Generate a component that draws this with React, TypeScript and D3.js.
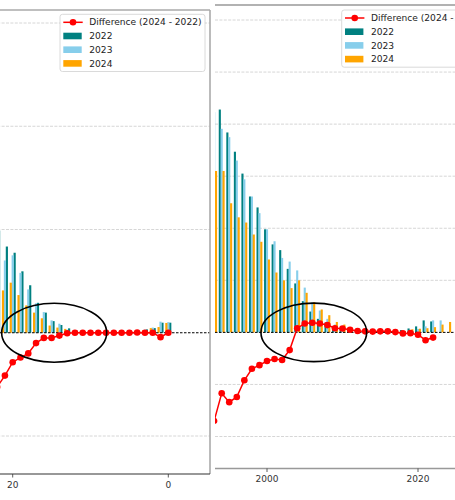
import React from "react";
import * as d3 from "d3";

// ---- left panel: years back (axis reversed) ----
const ageCats = [22, 21, 20, 19, 18, 17, 16, 15, 14, 13, 12, 11, 10, 9, 8, 7, 6, 5, 4, 3, 2, 1, 0];
const age2022 = [1980, 1670, 1550, 1190, 920, 580, 390, 225, 150, 85, 40, 20, 5, 5, 5, 5, 5, 5, 10, 65, 90, 195, 195];
const age2023 = [1780, 1400, 1500, 1160, 840, 570, 400, 240, 175, 60, 30, 15, 5, 5, 5, 5, 5, 5, 10, 60, 100, 215, 205];
const age2024 = [910, 820, 970, 730, 530, 390, 280, 140, 100, 75, 30, 15, 5, 5, 5, 5, 5, 5, 15, 45, 90, 110, 190];
const ageDiff = [-1050, -830, -570, -480, -400, -200, -100, -100, -55, -10, 0, 0, 0, 0, 0, 0, 0, 0, 5, 0, 0, -85, 0];

// ---- right panel: model year ----
const yearCats = [1993, 1994, 1995, 1996, 1997, 1998, 1999, 2000, 2001, 2002, 2003, 2004, 2005, 2006, 2007, 2008,
  2009, 2010, 2011, 2012, 2013, 2014, 2015, 2016, 2017, 2018, 2019, 2020, 2021, 2022, 2023, 2024];
const year2022 = [4880, 4280, 3840, 3470, 3050, 2610, 2400, 1980, 1690, 1580, 1220, 940, 600, 400, 260, 190,
  120, 80, 40, 20, 10, 10, 10, 10, 20, 45, 75, 115, 230, 210, null, null];
const year2023 = [4230, 3910, 3750, 3300, 2940, 2610, 2290, 1980, 1750, 1430, 1360, 1190, 860, 580, 420, 260,
  150, 110, 60, 30, 20, 15, 20, 20, 20, 20, 40, 65, 115, 230, 230, null];
const year2024 = [3100, 3100, 2480, 2210, 2110, 1880, 1740, 1400, 1150, 1000, 850, 1000, 760, 580, 440, 330,
  200, 150, 90, 45, 30, 25, 30, 30, 25, 25, 60, 70, 80, 100, 150, 200];
const yearDiff = [-1700, -1170, -1340, -1240, -920, -700, -630, -550, -510, -530, -340, 80, 170, 185, 170, 140,
  80, 75, 50, 25, 20, 15, 20, 20, 5, -20, -15, -45, -150, -100, null, null];

const seriesNames = ["2022", "2023", "2024"];
const seriesColors = ["#008080", "#87CEEB", "#FFA500"];
const diffLabel = "Difference (2024 - 2022)";
const yTicksLeft = [-2000, 0, 2000, 4000, 6000];
const yTicksRight = [-2000, -1000, 0, 1000, 2000, 3000, 4000, 5000, 6000];

const FONT = "DejaVu Sans, sans-serif";

function Panel({ id, cats, series, diff, x, y, box, xTicks, yTicks, spines, legend, ellipse }: any) {
  const offs = [-0.25, 0, 0.25];
  const bw = 0.28;
  const line = d3
    .line<any>()
    .defined((d) => d[1] != null)
    .x((d) => x(d[0]))
    .y((d) => y(d[1]));
  const pts = cats.map((c: number, i: number) => [c, diff[i]]);
  const zero = y(0);
  return (
    <g>
      <defs>
        <clipPath id={id}>
          <rect x={box.l} y={box.t} width={box.r - box.l} height={box.b - box.t} />
        </clipPath>
      </defs>
      <g clipPath={`url(#${id})`}>
        {yTicks.filter((t: number) => t !== 0).map((t: number) => (
          <line key={t} x1={box.l} x2={box.r} y1={y(t)} y2={y(t)} stroke="#cccccc" strokeWidth={0.8} strokeDasharray="3,1.4" />
        ))}
        {series.map((vals: any[], si: number) =>
          vals.map((v, i) => {
            if (v == null || v <= 0) return null;
            const a = x(cats[i] + offs[si] - bw / 2);
            const b = x(cats[i] + offs[si] + bw / 2);
            return (
              <rect key={si + "-" + i} x={Math.min(a, b)} width={Math.abs(b - a)} y={y(v)} height={zero - y(v)} fill={seriesColors[si]} />
            );
          }),
        )}
        <line x1={box.l} x2={box.r} y1={zero} y2={zero} stroke="#000" strokeWidth={1} strokeDasharray="2.5,1.5" />
        <path d={line(pts) || ""} fill="none" stroke="red" strokeWidth={1.5} />
        {pts.filter((p: any) => p[1] != null).map((p: any, i: number) => (
          <circle key={i} cx={x(p[0])} cy={y(p[1])} r={3.3} fill="red" />
        ))}
        <ellipse
          cx={x(ellipse.cx)}
          cy={y(0)}
          rx={Math.abs(x(ellipse.cx + ellipse.w / 2) - x(ellipse.cx))}
          ry={Math.abs(y(ellipse.h / 2) - y(0))}
          fill="none"
          stroke="#000"
          strokeWidth={1.6}
        />
      </g>
      {/* spines */}
      {spines.map((s: any, i: number) => (
        <line key={i} x1={s[0]} y1={s[1]} x2={s[2]} y2={s[3]} stroke={s[4]} strokeWidth={s[5]} />
      ))}
      {xTicks.map((t: number) => (
        <g key={t} transform={`translate(${x(t)},${box.b})`}>
          <line y1={0} y2={3.5} stroke="#333" strokeWidth={0.8} />
          <text y={13.5} textAnchor="middle" fontSize={9} fontFamily={FONT} fill="#333">
            {t}
          </text>
        </g>
      ))}
      {/* legend */}
      <g transform={`translate(${legend.x},${legend.y})`}>
        <rect width={145} height={57.2} rx={2.5} fill="white" fillOpacity={0.85} stroke="#d0d0d0" strokeWidth={0.8} />
        <line x1={3.3} x2={22.7} y1={8} y2={8} stroke="red" strokeWidth={1.5} />
        <circle cx={13} cy={8} r={3.3} fill="red" />
        <text x={29.3} y={8} dy="0.35em" fontSize={9.1} fontFamily={FONT} fill="#222">
          {diffLabel}
        </text>
        {seriesNames.map((n, i) => (
          <g key={n} transform={`translate(0,${8 + 13.7 * (i + 1)})`}>
            <rect x={3.3} y={-3.3} width={18.4} height={6.6} fill={seriesColors[i]} />
            <text x={29.3} dy="0.35em" fontSize={9.1} fontFamily={FONT} fill="#222">
              {n}
            </text>
          </g>
        ))}
      </g>
    </g>
  );
}

export default function App() {
  const xL = d3.scaleLinear().domain([20, 0]).range([12.7, 168.3]);
  const yL = d3.scaleLinear().domain([-2000, 6000]).range([436, 23]);
  const xR = d3.scaleLinear().domain([2000, 2020]).range([267, 418]);
  const yR = d3.scaleLinear().domain([-2000, 6000]).range([436.5, 20]);
  return (
    <svg width={455} height={500} style={{ position: "fixed", left: 0, top: 0, background: "white" }}>
      <rect width={455} height={500} fill="white" />
      <Panel
        id="clipL"
        cats={ageCats}
        series={[age2022, age2023, age2024]}
        diff={ageDiff}
        x={xL}
        y={yL}
        box={{ l: -60, r: 210, t: 10, b: 474 }}
        xTicks={[20, 0]}
        yTicks={yTicksLeft}
        spines={[
          [-60, 10, 210, 10, "#aaaaaa", 1.5],
          [210, 10, 210, 474, "#aaaaaa", 1.6],
          [-60, 474, 210, 474, "#333333", 1.1],
        ]}
        legend={{ x: 60, y: 14.3 }}
        ellipse={{ cx: 14.67, w: 13.5, h: 1140 }}
      />
      <Panel
        id="clipR"
        cats={yearCats}
        series={[year2022, year2023, year2024]}
        diff={yearDiff}
        x={xR}
        y={yR}
        box={{ l: 215, r: 492, t: 5, b: 468.5 }}
        xTicks={[2000, 2020]}
        yTicks={yTicksRight}
        spines={[
          [215, 5, 492, 5, "#999999", 1.4],
          [215, 468.5, 492, 468.5, "#999999", 1.6],
        ]}
        legend={{ x: 341.7, y: 10 }}
        ellipse={{ cx: 2006.2, w: 14, h: 1125 }}
      />
    </svg>
  );
}
